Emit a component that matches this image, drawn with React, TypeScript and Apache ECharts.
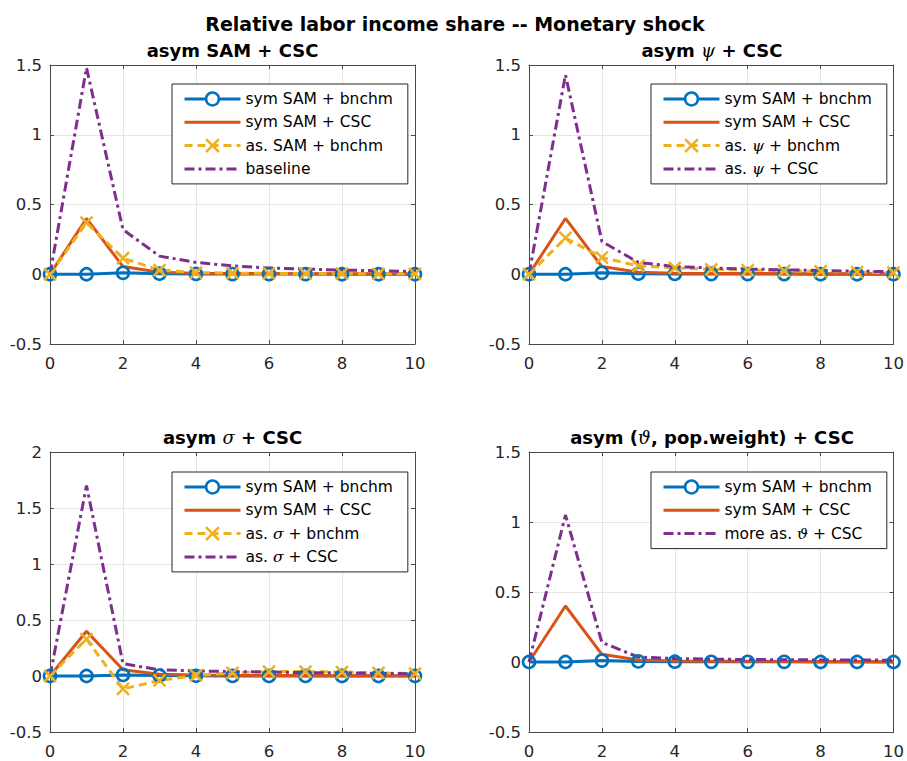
import React, { useEffect, useRef } from 'react';
import * as echarts from 'echarts';

// ---------- data ----------
const periods = [0, 1, 2, 3, 4, 5, 6, 7, 8, 9, 10];

const symSamBnchm = [0, 0, 0.01, 0.004, 0.002, 0.001, 0.001, 0.001, 0, 0, 0];
const symSamCsc = [0, 0.40, 0.055, 0.015, 0.008, 0.006, 0.005, 0.004, 0.003, 0.003, 0.002];

const asSamBnchm = [0, 0.37, 0.115, 0.03, 0.012, 0.008, 0.006, 0.005, 0.004, 0.003, 0.003];
const baseline = [0, 1.48, 0.32, 0.13, 0.085, 0.06, 0.045, 0.037, 0.03, 0.025, 0.02];

const asPsiBnchm = [0, 0.26, 0.12, 0.06, 0.045, 0.035, 0.03, 0.025, 0.02, 0.015, 0.012];
const asPsiCsc = [0, 1.43, 0.235, 0.085, 0.055, 0.045, 0.038, 0.032, 0.027, 0.022, 0.018];

const asSigmaBnchm = [0, 0.33, -0.115, -0.04, 0.005, 0.028, 0.04, 0.04, 0.035, 0.028, 0.022];
const asSigmaCsc = [0, 1.70, 0.11, 0.055, 0.045, 0.04, 0.035, 0.03, 0.027, 0.024, 0.02];

const moreAsThetaCsc = [0, 1.05, 0.14, 0.035, 0.025, 0.02, 0.018, 0.016, 0.015, 0.014, 0.013];

const mainTitle = 'Relative labor income share -- Monetary shock';
const panelTitles = ['asym SAM + CSC', 'asym {g|ψ} + CSC', 'asym {g|σ} + CSC', 'asym ({g|ϑ}, pop.weight) + CSC'];
const yMaxes = [1.5, 1.5, 2, 1.5];

// ---------- styles ----------
const BLUE = '#0072BD';
const ORANGE = '#D95319';
const YELLOW = '#EDB120';
const PURPLE = '#7E2F8E';
const AX = '#4a4a4a';
const FONT = 'DejaVu Sans';
const LW = 3;

type Kind = 'blue' | 'orange' | 'yellow' | 'purple';
type SeriesDef = { name: string; values: number[]; kind: Kind };

const panels: { title: string; series: SeriesDef[] }[] = [
  {
    title: panelTitles[0],
    series: [
      { name: 'sym SAM + bnchm', values: symSamBnchm, kind: 'blue' },
      { name: 'sym SAM + CSC', values: symSamCsc, kind: 'orange' },
      { name: 'as. SAM + bnchm', values: asSamBnchm, kind: 'yellow' },
      { name: 'baseline', values: baseline, kind: 'purple' },
    ],
  },
  {
    title: panelTitles[1],
    series: [
      { name: 'sym SAM + bnchm', values: symSamBnchm, kind: 'blue' },
      { name: 'sym SAM + CSC', values: symSamCsc, kind: 'orange' },
      { name: 'as. ψ + bnchm', values: asPsiBnchm, kind: 'yellow' },
      { name: 'as. ψ + CSC', values: asPsiCsc, kind: 'purple' },
    ],
  },
  {
    title: panelTitles[2],
    series: [
      { name: 'sym SAM + bnchm', values: symSamBnchm, kind: 'blue' },
      { name: 'sym SAM + CSC', values: symSamCsc, kind: 'orange' },
      { name: 'as. σ + bnchm', values: asSigmaBnchm, kind: 'yellow' },
      { name: 'as. σ + CSC', values: asSigmaCsc, kind: 'purple' },
    ],
  },
  {
    title: panelTitles[3],
    series: [
      { name: 'sym SAM + bnchm', values: symSamBnchm, kind: 'blue' },
      { name: 'sym SAM + CSC', values: symSamCsc, kind: 'orange' },
      { name: 'more as. ϑ + CSC', values: moreAsThetaCsc, kind: 'purple' },
    ],
  },
];

const grids = [
  { left: 50, top: 65, width: 365, height: 279 },
  { left: 529, top: 65, width: 366, height: 279 },
  { left: 50, top: 452, width: 365, height: 280 },
  { left: 529, top: 452, width: 366, height: 280 },
];
const legendPos = [
  { left: 172, top: 84 },
  { left: 651, top: 84 },
  { left: 172, top: 472 },
  { left: 651, top: 472 },
];
const titlePos = [
  { x: 232.5, y: 50 },
  { x: 712, y: 50 },
  { x: 232.5, y: 437.5 },
  { x: 712, y: 437.5 },
];

const X_PATH = 'path://M0,0L10,10M10,0L0,10';

function makeSeries(def: SeriesDef, idx: number): any {
  const data = periods.map((p, i) => [p, def.values[i]]);
  const base: any = {
    type: 'line',
    name: def.name,
    data,
    xAxisIndex: idx * 2,
    yAxisIndex: idx * 2,
    silent: true,
    emphasis: { disabled: true },
    showSymbol: true,
    clip: false,
  };
  if (def.kind === 'blue') {
    return {
      ...base,
      symbol: 'circle',
      symbolSize: 12,
      itemStyle: { color: 'rgba(255,255,255,0)', borderColor: BLUE, borderWidth: 2.6 },
      lineStyle: { color: BLUE, width: LW },
    };
  }
  if (def.kind === 'orange') {
    return {
      ...base,
      symbol: 'none',
      itemStyle: { color: ORANGE },
      lineStyle: { color: ORANGE, width: LW },
    };
  }
  if (def.kind === 'yellow') {
    return {
      ...base,
      symbol: X_PATH,
      symbolSize: 12,
      itemStyle: { color: 'rgba(0,0,0,0)', borderColor: YELLOW, borderWidth: 2.5 },
      lineStyle: { color: YELLOW, width: LW, type: [8, 5] },
    };
  }
  return {
    ...base,
    symbol: 'none',
    itemStyle: { color: PURPLE },
    lineStyle: { color: PURPLE, width: LW, type: [10, 4, 3, 4] },
  };
}

function legendItem(def: SeriesDef): any {
  if (def.kind === 'blue') {
    return { name: def.name, itemStyle: { color: '#fff', borderColor: BLUE, borderWidth: 2.5 } };
  }
  if (def.kind === 'yellow') {
    return { name: def.name, itemStyle: { color: 'rgba(0,0,0,0)', borderColor: YELLOW, borderWidth: 2.5 } };
  }
  return { name: def.name, itemStyle: { opacity: 0 } };
}

export default function App() {
  const ref = useRef<HTMLDivElement>(null);

  useEffect(() => {
    if (!ref.current) return;
    const chart = echarts.init(ref.current, undefined, { renderer: 'svg' });

    const xAxes: any[] = [];
    const yAxes: any[] = [];
    grids.forEach((_, i) => {
      const common = {
        gridIndex: i,
        type: 'value',
        axisLine: { show: true, onZero: false, lineStyle: { color: AX, width: 1 } },
        axisTick: { show: true, inside: true, length: 4, lineStyle: { color: AX } },
      };
      xAxes.push({
        ...common,
        min: 0,
        max: 10,
        interval: 2,
        position: 'bottom',
        axisLabel: { fontFamily: FONT, fontSize: 16.5, color: '#262626', margin: 11 },
        splitLine: { show: true, lineStyle: { color: '#e6e6e6', width: 1 } },
      });
      xAxes.push({
        ...common,
        min: 0,
        max: 10,
        interval: 2,
        position: 'top',
        axisLabel: { show: false },
        splitLine: { show: false },
      });
      yAxes.push({
        ...common,
        min: -0.5,
        max: yMaxes[i],
        interval: 0.5,
        position: 'left',
        axisLabel: { fontFamily: FONT, fontSize: 16.5, color: '#262626', margin: 8 },
        splitLine: { show: true, lineStyle: { color: '#e6e6e6', width: 1 } },
      });
      yAxes.push({
        ...common,
        min: -0.5,
        max: yMaxes[i],
        interval: 0.5,
        position: 'right',
        axisLabel: { show: false },
        splitLine: { show: false },
      });
    });

    const series: any[] = [];
    panels.forEach((p, i) => p.series.forEach((s) => series.push(makeSeries(s, i))));

    const greekRich = {
      g: { fontFamily: 'DejaVu Serif', fontStyle: 'italic', fontSize: 15.5, color: '#000' },
    };

    const legends = panels.map((p, i) => ({
      show: true,
      orient: 'vertical',
      left: legendPos[i].left,
      top: legendPos[i].top,
      selectedMode: false,
      itemWidth: 56,
      itemHeight: 16,
      itemGap: 7.3,
      padding: [7, 15, 7, 11],
      borderColor: '#262626',
      borderWidth: 1,
      borderRadius: 0,
      backgroundColor: '#ffffff',
      lineStyle: { width: LW },
      textStyle: { fontFamily: FONT, fontSize: 15.5, color: '#000', rich: greekRich },
      formatter: (n: string) => n.replace(/([ψσϑ])/g, '{g|$1}'),
      data: p.series.map(legendItem),
    }));

    const titleRich = {
      g: { fontFamily: 'DejaVu Serif', fontStyle: 'italic', fontWeight: 'normal', fontSize: 18, fill: '#000', color: '#000' },
    };

    const graphics: any[] = [
      {
        type: 'text',
        x: 455,
        y: 24,
        style: {
          text: mainTitle,
          fontFamily: FONT,
          fontSize: 19,
          fontWeight: 'bold',
          fill: '#000',
          textAlign: 'center',
          align: 'center',
          textVerticalAlign: 'middle',
          verticalAlign: 'middle',
        },
      },
      ...panels.map((p, i) => ({
        type: 'text',
        x: titlePos[i].x,
        y: titlePos[i].y,
        style: {
          text: p.title,
          fontFamily: FONT,
          fontSize: 18,
          fontWeight: 'bold',
          fill: '#000',
          textAlign: 'center',
          align: 'center',
          textVerticalAlign: 'middle',
          verticalAlign: 'middle',
          rich: titleRich,
        },
      })),
    ];

    chart.setOption({
      animation: false,
      backgroundColor: '#ffffff',
      grid: grids.map((g) => ({ ...g, containLabel: false, show: false })),
      xAxis: xAxes,
      yAxis: yAxes,
      legend: legends,
      series,
      graphic: graphics,
    });

    return () => {
      chart.dispose();
    };
  }, []);

  return (
    <div
      ref={ref}
      style={{ position: 'absolute', left: 0, top: 0, width: 907, height: 761, background: '#fff' }}
    />
  );
}
